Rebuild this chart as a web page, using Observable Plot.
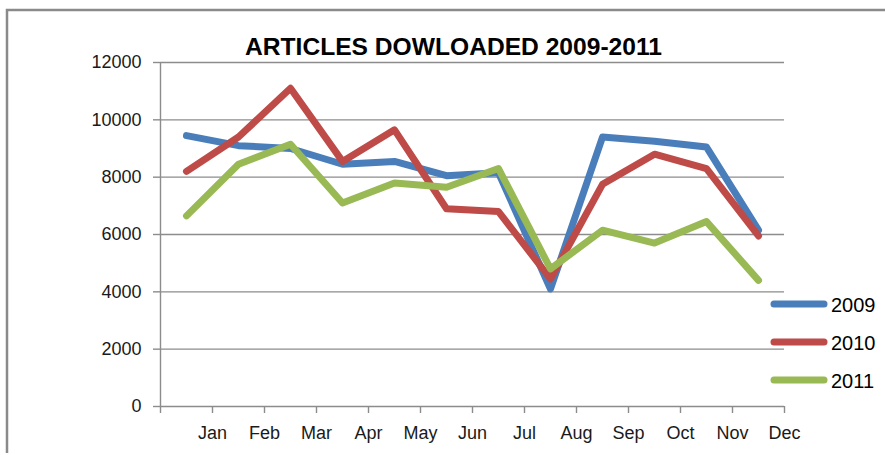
<!DOCTYPE html>
<html>
<head>
<meta charset="utf-8">
<script src="https://cdn.jsdelivr.net/npm/d3@7"></script>
<script src="https://cdn.jsdelivr.net/npm/@observablehq/plot@0.6"></script>
<style>
  html, body { margin: 0; padding: 0; background: #fff; }
  #wrap { position: relative; width: 885px; height: 455px; overflow: hidden; }
  #wrap svg.ov { position: absolute; left: 0; top: 0; pointer-events: none; }
</style>
</head>
<body>
<div id="wrap"></div>
<script>
const title = "ARTICLES DOWLOADED 2009-2011";
const months = ["Jan","Feb","Mar","Apr","May","Jun","Jul","Aug","Sep","Oct","Nov","Dec"];
const years = ["2009","2010","2011"];
const v2009 = [9450, 9100, 9000, 8450, 8550, 8050, 8150, 4100, 9400, 9250, 9050, 6150];
const v2010 = [8200, 9400, 11100, 8550, 9650, 6900, 6800, 4450, 7750, 8800, 8300, 5950];
const v2011 = [6650, 8450, 9150, 7100, 7800, 7650, 8300, 4800, 6150, 5700, 6450, 4400];
const yTicks = [0, 2000, 4000, 6000, 8000, 10000, 12000];
const colors = ["#4a7ebb", "#be4b48", "#98b954"];

const series = [v2009, v2010, v2011];
const data = years.flatMap((yr, s) => series[s].map((v, i) => ({year: yr, month: months[i], idx: i + 0.5, value: v})));

const W = 885, H = 455;
const chart = Plot.plot({
  width: W, height: H,
  marginLeft: 160, marginRight: 101, marginTop: 62, marginBottom: 49,
  x: {domain: [0, 12]},
  y: {domain: [0, 12000]},
  color: {domain: years, range: colors},
  style: {fontFamily: "Liberation Sans", fontSize: "18px", color: "#1a1a1a", background: "transparent"},
  marks: [
    Plot.gridY(yTicks, {stroke: "#8c8c8c", strokeOpacity: 1, strokeWidth: 1.4}),
    Plot.ruleX([0], {stroke: "#8c8c8c", strokeWidth: 1.4}),
    Plot.axisY(yTicks, {tickSize: 7, tickPadding: 12, tickFormat: d => String(d), stroke: "#8c8c8c", strokeWidth: 1.4, label: null}),
    Plot.axisX(d3.range(13), {tickSize: 7, tickPadding: 13, tickFormat: d => d ? months[d - 1] : "", stroke: "#8c8c8c", strokeWidth: 1.4, label: null}),
    Plot.lineY(data, {x: "idx", y: "value", z: "year", stroke: "year", strokeWidth: 7, strokeLinejoin: "round", strokeLinecap: "round"})
  ]
});
document.getElementById("wrap").appendChild(chart);

// overlay: border, title, legend
const ov = d3.select("#wrap").append("svg").attr("class", "ov").attr("width", W).attr("height", H);
ov.append("path").attr("d", `M7,453 L7,10 L885,10`).attr("fill", "none").attr("stroke", "#8a8a8a").attr("stroke-width", 2.5);
ov.append("text").attr("x", 245).attr("y", 55)
  .attr("font-family", "Liberation Sans Narrow, Liberation Sans").attr("font-weight", "bold").attr("font-size", 23)
  .attr("textLength", 417).attr("lengthAdjust", "spacingAndGlyphs").attr("fill", "#000").text(title);
const legY = [304, 342, 380];
years.forEach((yr, i) => {
  ov.append("line").attr("x1", 774).attr("x2", 824).attr("y1", legY[i]).attr("y2", legY[i])
    .attr("stroke", colors[i]).attr("stroke-width", 7).attr("stroke-linecap", "round");
  ov.append("text").attr("x", 831).attr("y", legY[i] + 8)
    .attr("font-family", "Liberation Sans").attr("font-size", 20).attr("fill", "#000").text(yr);
});
</script>
</body>
</html>
